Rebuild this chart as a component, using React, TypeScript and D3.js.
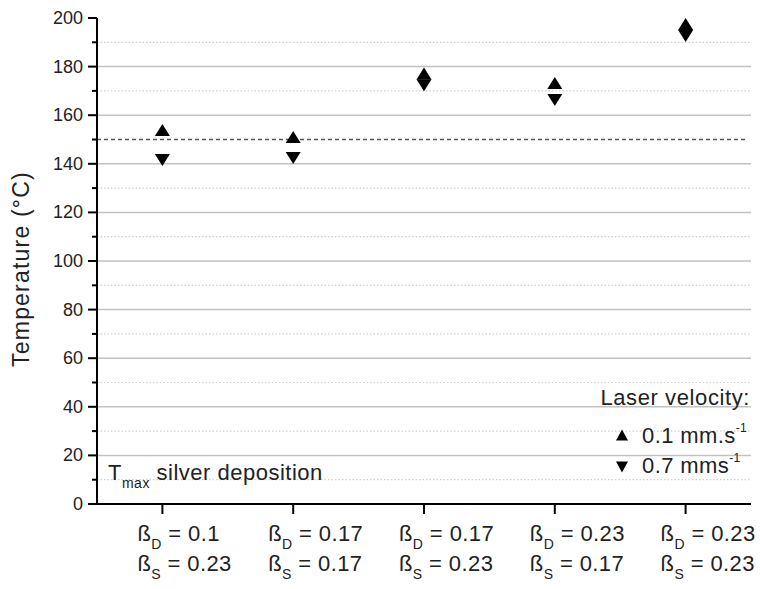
import React from "react";
import * as d3 from "d3";

const categories = ["c1", "c2", "c3", "c4", "c5"];
const betaD = ["0.1", "0.17", "0.17", "0.23", "0.23"];
const betaS = ["0.23", "0.17", "0.23", "0.17", "0.23"];
const upValues = [153.9, 151.0, 177.2, 173.3, 197.5];   // 0.1 mm.s-1
const downValues = [141.6, 142.4, 172.3, 166.3, 192.6]; // 0.7 mms-1
const majorTicks = [0, 20, 40, 60, 80, 100, 120, 140, 160, 180, 200];
const minorTicks = [10, 30, 50, 70, 90, 110, 130, 150, 170, 190];
const refLine = 150;

const W = 760, H = 589;
const left = 97, right = 751, top = 18, bottom = 504;
const FONT = "'Liberation Sans', Arial, sans-serif";

function tri(cx: number, cy: number, w: number, h: number, up: boolean) {
  const p = d3.path();
  if (up) {
    p.moveTo(cx, cy - h / 2);
    p.lineTo(cx + w / 2, cy + h / 2);
    p.lineTo(cx - w / 2, cy + h / 2);
  } else {
    p.moveTo(cx, cy + h / 2);
    p.lineTo(cx + w / 2, cy - h / 2);
    p.lineTo(cx - w / 2, cy - h / 2);
  }
  p.closePath();
  return p.toString();
}

export default function App() {
  const x = d3.scalePoint<string>().domain(categories).range([left, right]).padding(0.5);
  const y = d3.scaleLinear().domain([0, 200]).range([bottom, top]);

  return (
    <svg width={W} height={H} style={{ position: "absolute", left: 0, top: 0, background: "#fff" }} fontFamily={FONT}>
      {/* minor grid */}
      {minorTicks.filter((t) => t !== refLine).map((t) => (
        <line key={"mg" + t} x1={left} x2={right} y1={y(t)} y2={y(t)} stroke="#cfcfcf" strokeWidth={1.2} strokeDasharray="1.5,2" />
      ))}
      {/* major grid */}
      {majorTicks.filter((t) => t !== 0 && t !== 200).map((t) => (
        <line key={"Mg" + t} x1={left} x2={right} y1={y(t)} y2={y(t)} stroke="#c2c2c2" strokeWidth={1.5} />
      ))}
      {/* reference dashed line */}
      <line x1={left} x2={745} y1={y(refLine)} y2={y(refLine)} stroke="#555" strokeWidth={1.3} strokeDasharray="4,3" />

      {/* axes */}
      <line x1={left} x2={left} y1={top} y2={bottom} stroke="#000" strokeWidth={2} />
      <line x1={left} x2={right} y1={bottom} y2={bottom} stroke="#000" strokeWidth={2} />
      {majorTicks.map((t) => (
        <g key={"yt" + t}>
          <line x1={left - 9} x2={left} y1={y(t)} y2={y(t)} stroke="#000" strokeWidth={2} />
          <text x={83} y={y(t) + 6} textAnchor="end" fontSize={18} fill="#222">{t}</text>
        </g>
      ))}
      {minorTicks.map((t) => (
        <line key={"ymt" + t} x1={left - 5} x2={left} y1={y(t)} y2={y(t)} stroke="#000" strokeWidth={2} />
      ))}
      {categories.map((c, i) => (
        <g key={"xt" + c}>
          <line x1={x(c)!} x2={x(c)!} y1={bottom} y2={bottom + 10} stroke="#000" strokeWidth={2} />
          <text x={x(c)! - 25} y={541} fontSize={22} fill="#222" letterSpacing={0.4}>
            ß<tspan fontSize={14} dy={8}>D</tspan><tspan dy={-8}>{" = " + betaD[i]}</tspan>
          </text>
          <text x={x(c)! - 25} y={571} fontSize={22} fill="#222" letterSpacing={0.4}>
            ß<tspan fontSize={14} dy={8}>S</tspan><tspan dy={-8}>{" = " + betaS[i]}</tspan>
          </text>
        </g>
      ))}

      {/* y title */}
      <text transform={`translate(29,${(top + bottom) / 2 + 8}) rotate(-90)`} textAnchor="middle" fontSize={23} fill="#222" letterSpacing={1.2}>
        Temperature (°C)
      </text>

      {/* data */}
      {categories.map((c, i) => (
        <path key={"up" + c} d={tri(x(c)!, y(upValues[i]), 15, 12, true)} fill="#000" />
      ))}
      {categories.map((c, i) => (
        <path key={"dn" + c} d={tri(x(c)!, y(downValues[i]), 15, 12, false)} fill="#000" />
      ))}

      {/* annotation */}
      <text x={108} y={480} fontSize={22} fill="#222" letterSpacing={0.5}>
        T<tspan fontSize={14} dy={8}>max</tspan><tspan dy={-8}>{" silver deposition"}</tspan>
      </text>

      {/* legend */}
      <text x={750} y={405} textAnchor="end" fontSize={22} fill="#222" letterSpacing={0.6}>Laser velocity:</text>
      <path d={tri(622, 435, 12, 11, true)} fill="#000" />
      <text x={642} y={443} fontSize={22} fill="#222" letterSpacing={0.4}>
        0.1 mm.s<tspan fontSize={12} dy={-11}>-1</tspan>
      </text>
      <path d={tri(622, 467, 12, 11, false)} fill="#000" />
      <text x={642} y={473} fontSize={22} fill="#222" letterSpacing={0.4}>
        0.7 mms<tspan fontSize={12} dy={-11}>-1</tspan>
      </text>
    </svg>
  );
}
